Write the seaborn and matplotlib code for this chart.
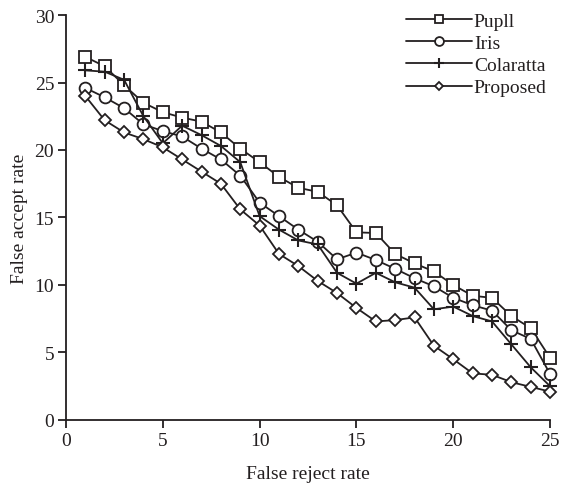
import matplotlib
matplotlib.use("Agg")
import matplotlib.pyplot as plt
import seaborn as sns
import pandas as pd

# False reject rate steps
frr = list(range(1, 26))

pupll = [26.9, 26.2, 24.8, 23.5, 22.8, 22.4, 22.1, 21.3, 20.1, 19.1,
         18.0, 17.2, 16.9, 15.9, 13.9, 13.85, 12.3, 11.6, 11.0, 10.0,
         9.2, 9.05, 7.7, 6.8, 4.6]
iris = [24.6, 23.9, 23.1, 21.9, 21.4, 21.0, 20.1, 19.3, 18.1, 16.1,
        15.1, 14.1, 13.2, 11.9, 12.4, 11.85, 11.2, 10.5, 9.9, 9.05,
        8.5, 8.1, 6.65, 6.0, 3.4]
colaratta = [25.9, 25.8, 25.2, 22.5, 20.5, 21.8, 21.1, 20.3, 19.1, 15.1,
             14.1, 13.3, 13.0, 10.9, 10.1, 10.9, 10.2, 9.8, 8.2, 8.4,
             7.7, 7.3, 5.6, 3.9, 2.5]
proposed = [24.0, 22.2, 21.3, 20.8, 20.2, 19.3, 18.4, 17.5, 15.6, 14.4,
            12.3, 11.4, 10.3, 9.4, 8.3, 7.3, 7.4, 7.6, 5.5, 4.5,
            3.45, 3.35, 2.8, 2.45, 2.1]

series_names = ["Pupll", "Iris", "Colaratta", "Proposed"]
series_values = [pupll, iris, colaratta, proposed]

df = pd.concat(
    [pd.DataFrame({"frr": frr, "far": vals, "method": name})
     for name, vals in zip(series_names, series_values)],
    ignore_index=True,
)

sns.set_theme(style="ticks")
plt.rcParams["font.family"] = ["Liberation Serif", "DejaVu Serif"]

ink = "#231f20"
marker_style = {
    "Pupll": dict(marker="s", markersize=8.5, markeredgewidth=1.3),
    "Iris": dict(marker="o", markersize=8.5, markeredgewidth=1.3),
    "Colaratta": dict(marker="+", markersize=9.5, markeredgewidth=1.5),
    "Proposed": dict(marker="D", markersize=6.0, markeredgewidth=1.3),
}

fig = plt.figure(figsize=(5.61, 4.85), dpi=100)
ax = fig.add_axes([0.1176, 0.132, 0.863, 0.835])

for name in series_names:
    sub = df[df["method"] == name]
    sns.lineplot(data=sub, x="frr", y="far", ax=ax, color=ink, linewidth=1.3,
                 markerfacecolor="white", markeredgecolor=ink, label=name,
                 clip_on=False, **marker_style[name])

ax.set_xlim(0, 25)
ax.set_ylim(0, 30)
ax.set_xticks([0, 5, 10, 15, 20, 25])
ax.set_yticks([0, 5, 10, 15, 20, 25, 30])
ax.set_xlabel("False reject rate", fontsize=14, labelpad=12, color=ink)
ax.set_ylabel("False accept rate", fontsize=14, labelpad=5, color=ink)
ax.tick_params(axis="both", labelsize=14, colors=ink, direction="out",
               length=5.5, width=1.3, pad=3)
for side in ("left", "bottom"):
    ax.spines[side].set_linewidth(1.3)
    ax.spines[side].set_color(ink)
sns.despine(ax=ax)

leg = ax.legend(loc="upper right", bbox_to_anchor=(1.017, 1.035), frameon=False,
                fontsize=14, handlelength=3.4, handletextpad=0.1,
                labelspacing=0.23, markerscale=0.75, borderaxespad=0.2)
for txt in leg.get_texts():
    txt.set_color(ink)

fig.savefig("out.png", dpi=100)
